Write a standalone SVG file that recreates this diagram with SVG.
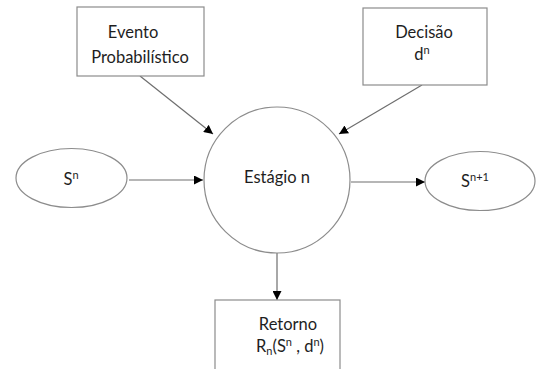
<svg xmlns="http://www.w3.org/2000/svg" width="536" height="369" viewBox="0 0 536 369">
<style>
.shape{fill:#fff;stroke:#8c8c8c;stroke-width:1.2}
.edge{fill:none;stroke:#6e6e6e;stroke-width:1.2;marker-end:url(#arr)}
text{font-family:Lato,"Liberation Sans",sans-serif;font-size:16.5px;fill:#1e1e1e;text-anchor:middle}
.sup{font-size:11px}
</style>
<defs>
<marker id="arr" viewBox="0 0 10 10" refX="10" refY="5" markerWidth="9" markerHeight="9" markerUnits="userSpaceOnUse" orient="auto">
<path d="M0,0 L10,5 L0,10 z" fill="#000"/>
</marker>
</defs>
<rect width="536" height="369" fill="#fff"/>
<g id="connectors">
<line class="edge" x1="140" y1="76" x2="213" y2="134"/>
<line class="edge" x1="422" y1="85" x2="339" y2="134"/>
<line class="edge" x1="129" y1="180" x2="203" y2="180"/>
<line class="edge" x1="351" y1="182" x2="425" y2="182"/>
<line class="edge" x1="277" y1="253" x2="277" y2="300"/>
</g>
<g id="evento">
<rect class="shape" x="77" y="7" width="127" height="69"/>
<text x="133" y="38">Evento</text>
<text x="140" y="63">Probabilístico</text>
</g>
<g id="decisao">
<rect class="shape" x="363" y="8" width="124" height="77"/>
<text x="424" y="38">Decisão</text>
<text x="422" y="60">d<tspan class="sup" dy="-6">n</tspan></text>
</g>
<g id="estagio">
<circle class="shape" cx="277" cy="180" r="73"/>
<text x="277" y="183">Estágio n</text>
</g>
<g id="sn">
<ellipse class="shape" cx="71.5" cy="178" rx="55.5" ry="29.5"/>
<text x="71" y="185">S<tspan class="sup" dy="-6">n</tspan></text>
</g>
<g id="sn1">
<ellipse class="shape" cx="480" cy="181" rx="55" ry="29.5"/>
<text x="475" y="187">S<tspan class="sup" dy="-6">n+1</tspan></text>
</g>
<g id="retorno">
<rect class="shape" x="215" y="300" width="125" height="80"/>
<text x="288" y="330">Retorno</text>
<text x="290" y="352">R<tspan class="sup" dy="3">n</tspan><tspan dy="-3">(S</tspan><tspan class="sup" dy="-6">n</tspan><tspan dy="6"> , d</tspan><tspan class="sup" dy="-6">n</tspan><tspan dy="6">)</tspan></text>
</g>
</svg>
